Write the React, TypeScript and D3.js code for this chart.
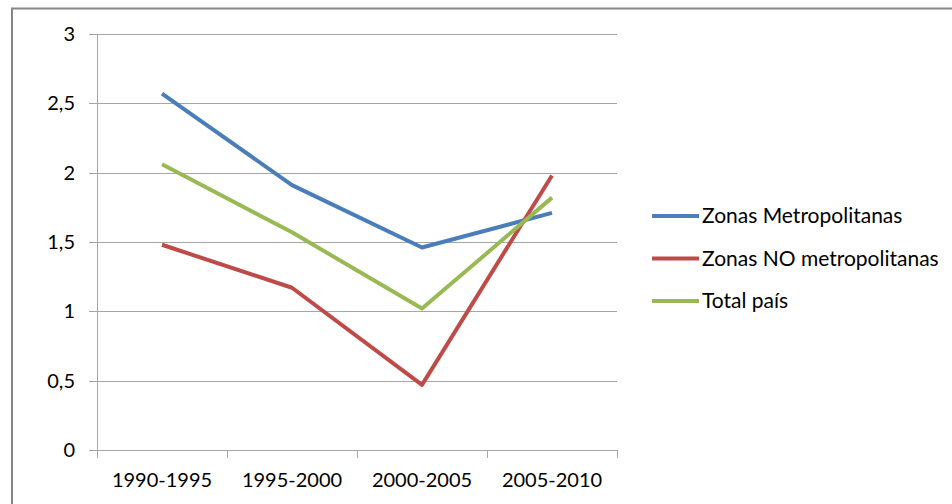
import React from "react";
import * as d3 from "d3";

const categories = ["1990-1995", "1995-2000", "2000-2005", "2005-2010"];
const metro = [2.57, 1.91, 1.46, 1.71];
const noMetro = [1.48, 1.17, 0.47, 1.98];
const total = [2.06, 1.57, 1.02, 1.82];
const yTicks = [0, 0.5, 1, 1.5, 2, 2.5, 3];
const seriesNames = ["Zonas Metropolitanas", "Zonas NO metropolitanas", "Total país"];
const colors = ["#4A7EBB", "#BE4B48", "#98B954"];

const W = 952, H = 504;
const left = 97, right = 617, top = 34, bottom = 450;
const font = "Lato, 'Open Sans', sans-serif";
const fs = 20;
const legendFs = 21;

export default function App() {
  const x = d3.scaleBand().domain(categories).range([left, right]);
  const y = d3.scaleLinear().domain([0, 3]).range([bottom, top]);
  const fmt = (v: number) => String(v).replace(".", ",");
  const line = d3.line<number>()
    .x((_, i) => (x(categories[i]) as number) + x.bandwidth() / 2)
    .y((d) => y(d));
  const series = [metro, noMetro, total];
  const tickXs = categories.map((c) => x(c) as number).concat([right]);
  return (
    <svg width={W} height={H} style={{ position: "absolute", left: 0, top: 0, background: "#fff" }}>
      <rect x={12} y={8.5} width={W + 20} height={H + 20} fill="#fff" stroke="#868686" strokeWidth={2} />
      {yTicks.map((t) => (
        <g key={t}>
          <line x1={89} x2={right} y1={Math.round(y(t)) + 0.5} y2={Math.round(y(t)) + 0.5} stroke="#a6a6a6" strokeWidth={1} />
          <text x={75} y={y(t)} dy="0.35em" textAnchor="end" fontFamily={font} fontSize={fs} fill="#000">{fmt(t)}</text>
        </g>
      ))}
      <line x1={left + 0.5} x2={left + 0.5} y1={top} y2={bottom} stroke="#a6a6a6" />
      {tickXs.map((tx, i) => (
        <line key={i} x1={Math.round(tx) + 0.5} x2={Math.round(tx) + 0.5} y1={bottom} y2={bottom + 8} stroke="#a6a6a6" />
      ))}
      {categories.map((c) => (
        <text key={c} x={(x(c) as number) + x.bandwidth() / 2} y={480} dy="0.35em" textAnchor="middle" fontFamily={font} fontSize={fs} fill="#000">{c}</text>
      ))}
      {series.map((s, i) => (
        <path key={i} d={line(s) || ""} fill="none" stroke={colors[i]} strokeWidth={4} strokeLinejoin="round" />
      ))}
      {seriesNames.map((n, i) => (
        <g key={n} transform={`translate(0, ${216 + i * 42.5})`}>
          <line x1={652} x2={699} y1={0} y2={0} stroke={colors[i]} strokeWidth={4} />
          <text x={702} y={0} dy="0.35em" fontFamily={font} fontSize={legendFs} fill="#000">{n}</text>
        </g>
      ))}
    </svg>
  );
}
